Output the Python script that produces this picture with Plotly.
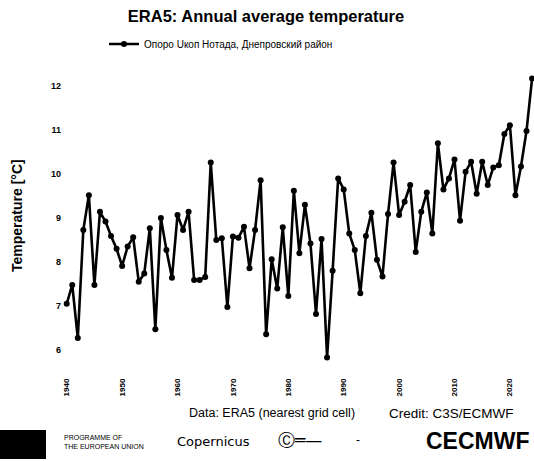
import plotly.graph_objects as go

years = list(range(1940, 2025))
temps = [
    7.05, 7.48, 6.27, 8.73, 9.52, 7.48, 9.14, 8.92, 8.59, 8.30,
    7.91, 8.35, 8.56, 7.55, 7.74, 8.77, 6.47, 9.00, 8.27, 7.64,
    9.07, 8.73, 9.14, 7.59, 7.59, 7.66, 10.26, 8.50, 8.54, 6.98,
    8.58, 8.55, 8.80, 7.86, 8.73, 9.86, 6.36, 8.06, 7.40, 8.79,
    7.23, 9.62, 8.20, 9.30, 8.42, 6.82, 8.52, 5.83, 7.80, 9.90,
    9.65, 8.65, 8.27, 7.29, 8.59, 9.12, 8.05, 7.67, 9.09, 10.26,
    9.07, 9.37, 9.75, 8.23, 9.14, 9.58, 8.65, 10.70, 9.65, 9.90,
    10.33, 8.94, 10.05, 10.28, 9.55, 10.28, 9.75, 10.15, 10.20, 10.91,
    11.11, 9.52, 10.17, 10.98, 12.17,
]
series_name = "Опоро Uкоп Нотада, Днепровский район"
x_ticks = [1940, 1950, 1960, 1970, 1980, 1990, 2000, 2010, 2020]
y_ticks = [6, 7, 8, 9, 10, 11, 12]

W, H = 534, 461
L, R, T, B = 62, 0, 70, 85
PW, PH = W - L - R, H - T - B

def px(x):
    return (x - L) / PW

def py(y):
    return 1 - (y - T) / PH

FONT = "Liberation Sans"

fig = go.Figure()
fig.add_trace(go.Scatter(
    x=years, y=temps, mode="lines+markers", name=series_name,
    line=dict(color="black", width=2.6),
    marker=dict(color="black", size=6),
    cliponaxis=False,
))

fig.update_layout(
    width=W, height=H,
    margin=dict(l=L, r=R, t=T, b=B, autoexpand=False),
    paper_bgcolor="white", plot_bgcolor="white",
    font=dict(family=FONT, color="black"),
    title=dict(text="<b>ERA5: Annual average temperature</b>",
               x=266 / W, xanchor="center", y=1 - 16 / H, yanchor="middle",
               font=dict(size=16.5, family=FONT, color="black")),
    showlegend=True,
    legend=dict(orientation="h", x=px(104), xanchor="left", y=py(44), yanchor="middle",
                font=dict(size=10, family=FONT, color="black"),
                bgcolor="rgba(0,0,0,0)", itemwidth=30),
    xaxis=dict(range=[1939.15, 2024.35], tickvals=x_ticks, tickangle=-90,
               showgrid=False, zeroline=False, showline=False, ticks="",
               automargin=False,
               tickfont=dict(size=8, family=FONT, color="black", weight="bold")),
    yaxis=dict(range=[5.409, 12.364], tickvals=y_ticks,
               showgrid=False, zeroline=False, showline=False, ticks="",
               automargin=False,
               tickfont=dict(size=9, family=FONT, color="black", weight="bold")),
)

ann = [
    dict(text="<b>Temperature [°C]</b>", x=px(17), y=py(216), xanchor="center",
         textangle=-90, font=dict(size=14)),
    dict(text="Data: ERA5 (nearest grid cell)", x=px(187), y=py(413), xanchor="left",
         font=dict(size=12.5)),
    dict(text="Credit: C3S/ECMWF", x=px(387), y=py(413), xanchor="left",
         font=dict(size=13.5)),
    dict(text="PROGRAMME OF<br>THE EUROPEAN UNION", x=px(62), y=py(442), xanchor="left",
         align="left", font=dict(size=7)),
    dict(text="Copernicus", x=px(213), y=py(441), xanchor="center",
         font=dict(size=13, family="DejaVu Sans")),
    dict(text="Ⓒ═—", x=px(300), y=py(440), xanchor="center",
         font=dict(size=17, family="DejaVu Sans")),
    dict(text="-", x=px(358), y=py(440), xanchor="center", font=dict(size=12)),
    dict(text="<b>CECMWF</b>", x=px(477), y=py(441), xanchor="center",
         font=dict(size=23)),
]
for a in ann:
    a.update(xref="paper", yref="paper", showarrow=False, yanchor="middle")
    a["font"].setdefault("family", FONT)
    a["font"]["color"] = "black"
    fig.add_annotation(**a)

fig.add_shape(type="rect", xref="paper", yref="paper",
              x0=px(0), x1=px(46), y0=py(459), y1=py(430),
              fillcolor="black", line=dict(width=0))

fig.write_html("out.html", config={"displayModeBar": False},
               post_script="document.body.style.margin='0';document.body.style.overflow='hidden';")
